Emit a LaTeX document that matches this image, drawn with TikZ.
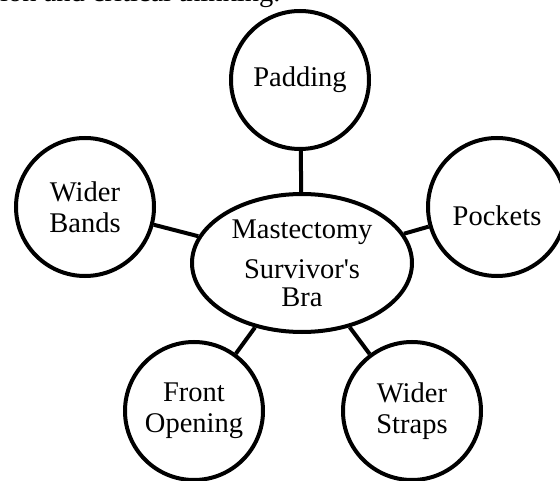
\documentclass[tikz,border=0pt]{standalone}
\usepackage{fontspec}
\setmainfont{Liberation Serif}[Ligatures=TeXOff]
\usetikzlibrary{shapes.geometric}
\begin{document}
\begin{tikzpicture}[x=1pt,y=1pt,
  txt/.style={font=\fontsize{28.5}{31}\selectfont},
  bubble/.style={circle,draw=black,line width=4pt,minimum size=138pt,inner sep=0pt,align=center,txt},
  hub/.style={ellipse,draw=black,line width=4pt,minimum width=220pt,minimum height=138pt,inner sep=0pt,align=center,txt},
  link/.style={draw=black,line width=4pt}]
\useasboundingbox (0,0) rectangle (560,480);
\node[anchor=base west,inner sep=0pt,txt] (cut) at (0,478) {ion and critical thinking.};
\node[hub] (hub) at (302,217) {Mastectomy\\[9pt]Survivor's\\[-3pt]Bra};
\node[bubble] (pad) at (300,400) {Padding};
\node[bubble] (bands) at (85,273) {Wider\\Bands};
\node[bubble] (pock) at (497,273) {};
\node[txt,inner sep=0pt] (pocktxt) at ([yshift=-9pt]pock.center) {Pockets};
\node[bubble] (front) at (194,69) {Front\\Opening};
\node[bubble] (straps) at (412,69) {Wider\\Straps};
\draw[link] (hub) -- (pad);
\draw[link] (hub) -- (bands);
\draw[link] (hub) -- (pock);
\draw[link] (hub) -- (front);
\draw[link] (hub) -- (straps);
\end{tikzpicture}
\end{document}
